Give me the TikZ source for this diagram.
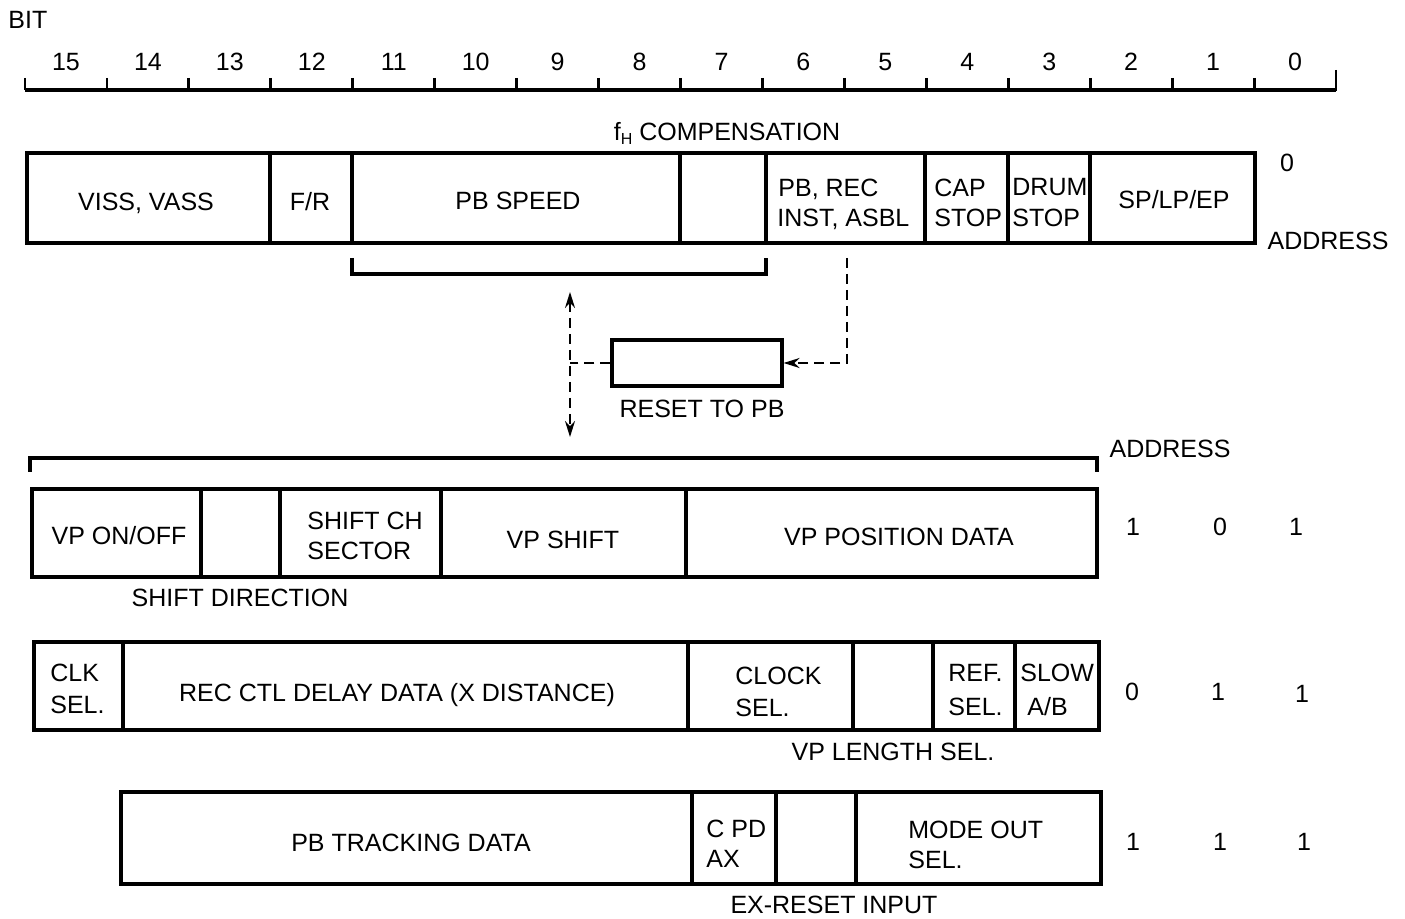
\documentclass[tikz,border=0pt]{standalone}
\usepackage{fontspec}
\setmainfont{Liberation Sans}
\usetikzlibrary{arrows.meta}
\newcommand\regcell[5]{\node[cell, minimum width={(#3-#2)*0.5pt}, minimum height={(#5-#4)*0.5pt}] (#1) at ({(#2+#3)/2},{(#4+#5)/2}) {};}
\begin{document}
\begin{tikzpicture}[x=0.5pt,y=-0.5pt,
  cell/.style={draw, line width=1.6pt, inner sep=0pt},
  lbl/.style={inner sep=0pt, text height=8.9pt, text depth=0pt, font=\fontsize{12.5}{15}\selectfont},
  rulerline/.style={line width=1.9pt},
  tickline/.style={line width=1.4pt},
  dashline/.style={line width=1pt, dash pattern=on 5pt off 3pt},
  tip/.style={-{Stealth[length=8pt,width=5pt]}}]
\useasboundingbox (0,0) rectangle (1405,919);

% ---- bit ruler ----
\node[lbl, anchor=west] (bitlbl) at (8,20) {BIT};
\foreach \b in {0,...,15}
  \node[lbl] (bit\b) at ({25+(15-\b+0.5)*81.94},62) {\b};
\draw[rulerline] (25,90) -- (1336,90);
\foreach \k in {0,...,15}
  \draw[tickline] ({25+\k*81.94},78) -- ({25+\k*81.94},90);
\draw[tickline] (1336,70) -- (1336,91);

% ---- address 0 register ----
\node[lbl] (fh) at (727,132) {f\raisebox{-0.3ex}{\fontsize{8}{9}\selectfont H}\ COMPENSATION};
\regcell{a0viss}{27}{270}{153}{243}
\regcell{a0fr}{270}{352}{153}{243}
\regcell{a0pbs}{352}{680}{153}{243}
\regcell{a0blank}{680}{766}{153}{243}
\regcell{a0pbrec}{766}{925}{153}{243}
\regcell{a0cap}{925}{1008}{153}{243}
\regcell{a0drum}{1008}{1090}{153}{243}
\regcell{a0sp}{1090}{1255}{153}{243}
\node[lbl] (t-viss) at (146,202) {VISS, VASS};
\node[lbl] (t-fr) at (310,202) {F/R};
\node[lbl] (t-pbs) at (518,201) {PB SPEED};
\node[lbl, anchor=west] (t-pbrec1) at (778,188) {PB, REC};
\node[lbl, anchor=west] (t-pbrec2) at (777,218) {INST, ASBL};
\node[lbl, anchor=west] (t-cap1) at (934,188) {CAP};
\node[lbl, anchor=west] (t-cap2) at (934,218) {STOP};
\node[lbl, anchor=west] (t-drum1) at (1012,187) {DRUM};
\node[lbl, anchor=west] (t-drum2) at (1012,218) {STOP};
\node[lbl] (t-sp) at (1174,200) {SP/LP/EP};
\node[lbl] (ad0) at (1287,163) {0};
\node[lbl] (ad0lbl) at (1328,241) {ADDRESS};

% PB speed bracket
\draw[rulerline] (352,258) -- (352,274) -- (766,274) -- (766,258);

% ---- reset to PB ----
\node[draw, line width=1.6pt, inner sep=0pt, minimum width={170*0.5pt}, minimum height={46*0.5pt}] (reset) at (697,363) {};
\node[lbl] (t-reset) at (702,409) {RESET TO PB};
\coordinate (dtop) at (847,258);
\draw[dashline, tip] (dtop) |- (reset.east);
\coordinate (vtop) at (570,292);
\coordinate (vbot) at (570,437);
\draw[dashline, {Stealth[length=8pt,width=5pt]}-{Stealth[length=8pt,width=5pt]}] (vtop) -- (vbot);
\draw[dashline] (reset.west) -- (reset.west -| vtop);

% ---- lower bracket ----
\draw[rulerline] (30,472) -- (30,458) -- (1097,458) -- (1097,472);
\node[lbl] (adlbl) at (1170,449) {ADDRESS};

% ---- address 101 ----
\regcell{b1}{32}{201}{489}{577}
\regcell{b2}{201}{280}{489}{577}
\regcell{b3}{280}{441}{489}{577}
\regcell{b4}{441}{686}{489}{577}
\regcell{b5}{686}{1097}{489}{577}
\node[lbl] (t-vpon) at (119,536) {VP ON/OFF};
\node[lbl, anchor=west] (t-sch1) at (307,521) {SHIFT CH};
\node[lbl, anchor=west] (t-sch2) at (307,551) {SECTOR};
\node[lbl] (t-vpsh) at (563,540) {VP SHIFT};
\node[lbl] (t-vppos) at (899,537) {VP POSITION DATA};
\node[lbl] (t-shdir) at (240,598) {SHIFT DIRECTION};
\node[lbl] (b-a2) at (1133,527) {1};
\node[lbl] (b-a1) at (1220,527) {0};
\node[lbl] (b-a0) at (1296,527) {1};

% ---- address 011 ----
\regcell{c1}{34}{123}{642}{730}
\regcell{c2}{123}{688}{642}{730}
\regcell{c3}{688}{853}{642}{730}
\regcell{c4}{853}{933}{642}{730}
\regcell{c5}{933}{1015}{642}{730}
\regcell{c6}{1015}{1099}{642}{730}
\node[lbl, anchor=west] (t-clk1) at (50,673) {CLK};
\node[lbl, anchor=west] (t-clk2) at (50,705) {SEL.};
\node[lbl] (t-rec) at (397,693) {REC CTL DELAY DATA (X DISTANCE)};
\node[lbl, anchor=west] (t-clock1) at (735,676) {CLOCK};
\node[lbl, anchor=west] (t-clock2) at (735,708) {SEL.};
\node[lbl, anchor=east] (t-ref1) at (1003,673) {REF.};
\node[lbl, anchor=east] (t-ref2) at (1003,707) {SEL.};
\node[lbl, anchor=west] (t-slow1) at (1020,673) {SLOW};
\node[lbl, anchor=west] (t-slow2) at (1027,707) {A/B};
\node[lbl] (t-vplen) at (893,752) {VP LENGTH SEL.};
\node[lbl] (c-a2) at (1132,692) {0};
\node[lbl] (c-a1) at (1218,692) {1};
\node[lbl] (c-a0) at (1302,694) {1};

% ---- address 111 ----
\regcell{d1}{121}{692}{792}{884}
\regcell{d2}{692}{776}{792}{884}
\regcell{d3}{776}{856}{792}{884}
\regcell{d4}{856}{1101}{792}{884}
\node[lbl] (t-pbtr) at (411,843) {PB TRACKING DATA};
\node[lbl, anchor=west] (t-cpd1) at (706,829) {C PD};
\node[lbl, anchor=west] (t-cpd2) at (706,859) {AX};
\node[lbl, anchor=west] (t-mode1) at (908,830) {MODE OUT};
\node[lbl, anchor=west] (t-mode2) at (908,860) {SEL.};
\node[lbl] (t-exr) at (834,905) {EX-RESET INPUT};
\node[lbl] (d-a2) at (1133,842) {1};
\node[lbl] (d-a1) at (1220,842) {1};
\node[lbl] (d-a0) at (1304,842) {1};
\end{tikzpicture}
\end{document}
